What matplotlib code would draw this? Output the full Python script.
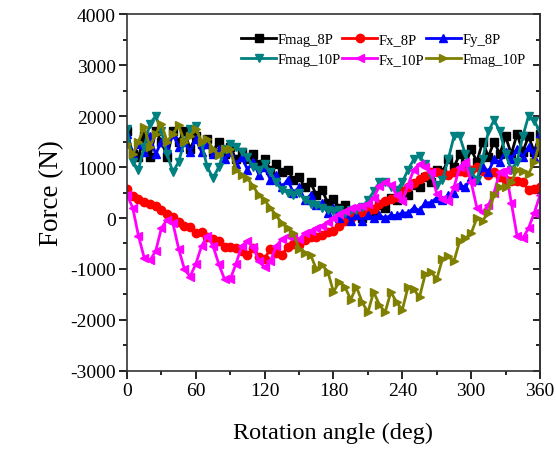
import matplotlib.pyplot as plt
import numpy as np

plt.rcParams['font.family'] = ['Liberation Serif', 'DejaVu Serif']
plt.rcParams['axes.unicode_minus'] = False

# rotation angle, 5 deg steps
angle = np.arange(0, 361, 5)

fmag_8p = [1700, 1250, 1200, 1600, 1200, 1700, 1500, 1200, 1700, 1500,
           1700, 1350, 1600, 1450, 1550, 1300, 1500, 1250, 1400, 1150,
           1300, 1150, 1250, 1050, 1150, 950, 1050, 900, 950, 750,
           800, 600, 700, 450, 550, 300, 380, 200, 250, 50,
           100, 0, 150, 100, 250, 200, 400, 350, 500, 450,
           650, 600, 800, 700, 950, 900, 1150, 1000, 1250, 1050,
           1350, 1100, 1500, 1200, 1500, 1250, 1600, 1250, 1650, 1300,
           1600, 1300, 1650]

fx_8p = [560, 430, 380, 310, 280, 230, 150, 80, 20, -80,
         -150, -180, -300, -280, -380, -420, -460, -560, -560, -580,
         -640, -720, -580, -760, -800, -600, -680, -730, -560, -510,
         -530, -440, -380, -380, -330, -280, -250, -160, -50, 0,
         50, 80, 130, 180, 280, 330, 370, 420, 530, 600,
         680, 760, 830, 900, 900, 860, 850, 900, 920, 900,
         950, 1000, 920, 850, 900, 800, 750, 720, 720, 700,
         550, 560, 600]

fy_8p = [1650, 1250, 1450, 1300, 1600, 1250, 1500, 1350, 1650, 1400,
         1500, 1300, 1550, 1300, 1450, 1250, 1350, 1150, 1300, 1050,
         1200, 950, 1100, 850, 1000, 750, 850, 600, 750, 500,
         600, 350, 450, 250, 300, 100, 200, 0, 100, -50,
         50, -50, 50, 0, 50, 0, 50, 50, 100, 100,
         200, 150, 300, 300, 400, 350, 450, 500, 650, 600,
         800, 750, 1000, 900, 1150, 1100, 1300, 1150, 1350, 1200,
         1400, 1200, 1650]

fmag_10p = [1750, 1100, 950, 1400, 1850, 2000, 1700, 1250, 900, 1100,
            1500, 1750, 1800, 1450, 1000, 780, 1000, 1350, 1450, 1400,
            1300, 1200, 1000, 950, 1050, 900, 700, 550, 500, 450,
            500, 350, 280, 250, 200, 150, 140, 150, 100, 150,
            150, 220, 350, 520, 700, 700, 600, 550, 700, 950,
            1150, 1220, 1050, 850, 650, 750, 1150, 1600, 1600, 1250,
            900, 750, 1150, 1700, 1920, 1700, 1250, 950, 1100, 1600,
            2000, 1900, 1700]

fx_10p = [450, 200, -350, -780, -830, -650, -200, -30, -100, -600,
          -1000, -1150, -900, -550, -350, -550, -900, -1200, -1200, -900,
          -550, -450, -570, -850, -970, -850, -550, -420, -350, -380,
          -420, -300, -250, -200, -150, -80, 0, 80, 140, 200,
          220, 240, 280, 400, 620, 700, 650, 450, 330, 650,
          950, 1060, 1000, 900, 480, 380, 330, 600, 1000, 1100,
          700, 200, 120, 250, 500, 900, 950, 300, -350, -400,
          -200, 100, 450]

fmag_10p_b = [1450, 1250, 1500, 1780, 1400, 1650, 1850, 1500, 1650, 1820,
              1500, 1600, 1750, 1500, 1550, 1350, 1230, 1350, 1350, 950,
              850, 780, 620, 450, 350, 200, 50, -100, -200, -300,
              -600, -680, -720, -1000, -920, -1050, -1450, -1250, -1350, -1600,
              -1350, -1650, -1850, -1450, -1700, -1850, -1450, -1650, -1800, -1350,
              -1400, -1550, -1100, -1050, -1200, -800, -750, -850, -450, -400,
              -300, 0, -50, 100, 450, 600, 600, 700, 950, 920,
              860, 1100, 1500]

series = [
    (fmag_8p, 'Fmag_8P', 'black', 's'),
    (fx_8p, 'Fx_8P', '#ff0000', 'o'),
    (fy_8p, 'Fy_8P', '#0000ff', '^'),
    (fmag_10p, 'Fmag_10P', '#008080', 'v'),
    (fx_10p, 'Fx_10P', '#ff00ff', '<'),
    (fmag_10p_b, 'Fmag_10P', '#808000', '>'),
]

fig = plt.figure(figsize=(5.56, 4.52), dpi=100)
ax = fig.add_axes([0.2284, 0.177, 0.7428, 0.7898])

handles = []
for vals, label, color, marker in series:
    h, = ax.plot(angle, vals, color=color, marker=marker, markersize=6,
                 linewidth=2, label=label)
    handles.append(h)

ax.set_xlim(0, 360)
ax.set_ylim(-3000, 4000)
ax.set_xticks(np.arange(0, 361, 60))
ax.set_xticks(np.arange(30, 360, 60), minor=True)
ax.set_yticks(np.arange(-3000, 4001, 1000))
ax.set_yticks(np.arange(-2500, 4000, 1000), minor=True)

ax.tick_params(axis='both', which='major', direction='out', length=6,
               width=1.2, labelsize=14, pad=2)
ax.tick_params(axis='both', which='minor', direction='out', length=3, width=1.2)
for sp in ax.spines.values():
    sp.set_linewidth(1.2)
    sp.set_color('#333333')

# inward ticks on the right edge, no labels
right = ax.secondary_yaxis('right')
right.set_yticks(np.arange(-3000, 4001, 1000))
right.set_yticks(np.arange(-2500, 4000, 1000), minor=True)
right.tick_params(which='major', direction='in', length=5, width=1.2, labelright=False)
right.tick_params(which='minor', direction='in', length=3, width=1.2)
right.spines['right'].set_linewidth(1.2)
right.spines['right'].set_color('#333333')

ax.set_xlabel('Rotation angle (deg)', fontsize=17.5, labelpad=16)
ax.set_ylabel('Force (N)', fontsize=19.5, labelpad=4)

# legend filled row by row: matplotlib fills columns first
order = [0, 3, 1, 4, 2, 5]
ax.legend([handles[i] for i in order], [series[i][1] for i in order],
          loc='upper right', ncol=3, frameon=False, fontsize=10.5,
          handlelength=2.4, handletextpad=0.1, columnspacing=0.1,
          labelspacing=0.45, bbox_to_anchor=(0.99, 0.975), borderaxespad=0.3)

fig.savefig('out.png', dpi=100)
